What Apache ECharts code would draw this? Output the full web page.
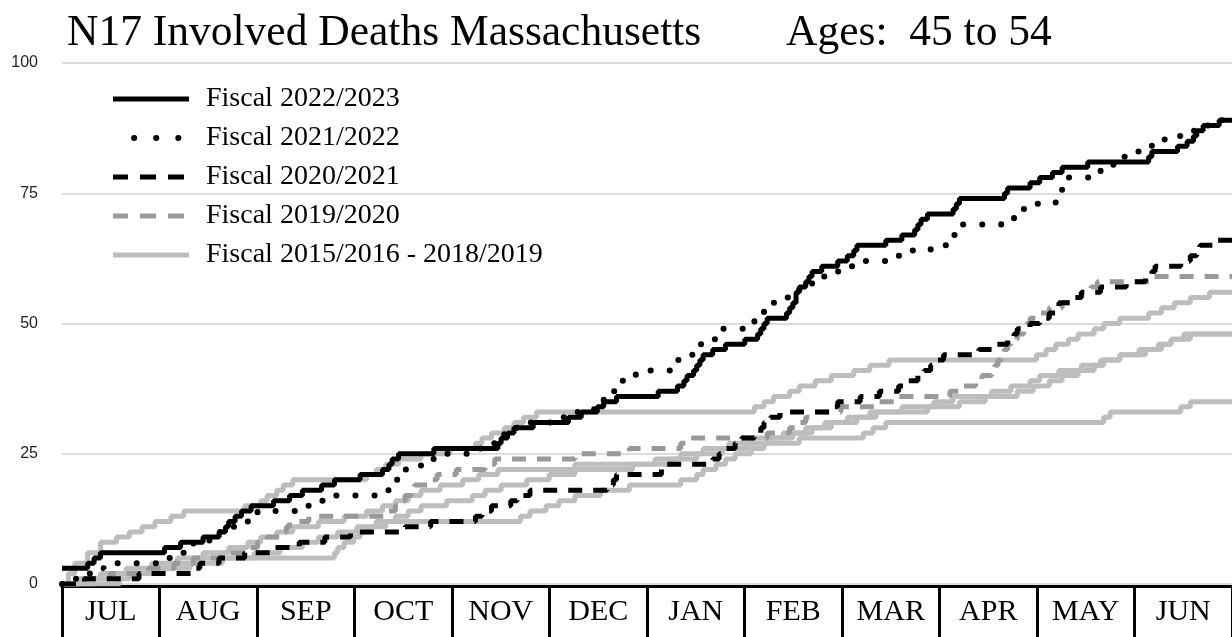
<!DOCTYPE html>
<html>
<head>
<meta charset="utf-8">
<script src="https://cdn.jsdelivr.net/npm/echarts@6/dist/echarts.min.js"></script>
<style>
  html, body { margin: 0; padding: 0; background: #fff; }
  #chart { width: 1232px; height: 637px; }
</style>
</head>
<body>
<div id="chart"></div>
<script>
// Month boxes along the bottom (fiscal year, July to June)
const months = ['JUL', 'AUG', 'SEP', 'OCT', 'NOV', 'DEC', 'JAN', 'FEB', 'MAR', 'APR', 'MAY', 'JUN'];
const yTicks = [0, 25, 50, 75, 100];
const daysInYear = 365;

// Running totals: [day of fiscal year, cumulative deaths from that day on]
const fy2223 = [[0,3],[8,4],[10,5],[12,6],[32,7],[37,8],[44,9],[49,10],[51,11],[52,12],[54,13],[56,14],[59,15],[66,16],[71,17],[75,18],[81,19],[85,20],[93,21],[100,22],[102,23],[103,24],[105,25],[116,26],[136,27],[137,28],[139,29],[141,30],[147,31],[158,32],[162,33],[167,34],[169,35],[173,36],[186,37],[192,38],[194,39],[195,40],[197,41],[198,42],[199,43],[200,44],[203,45],[207,46],[213,47],[217,48],[218,49],[219,50],[220,51],[226,52],[227,53],[228,54],[229,56],[230,57],[232,58],[233,59],[234,60],[237,61],[242,62],[245,63],[247,64],[248,65],[257,66],[262,67],[266,68],[267,69],[268,70],[270,71],[278,72],[279,73],[280,74],[294,75],[295,76],[302,77],[305,78],[309,79],[312,80],[320,81],[339,82],[340,83],[348,84],[351,85],[353,86],[354,87],[356,88],[361,89]];

const fy2122 = [[0,0],[4,1],[8,2],[9,3],[13,4],[32,5],[34,6],[38,7],[41,8],[46,9],[49,10],[53,11],[56,12],[59,13],[61,14],[74,15],[78,16],[84,17],[101,18],[102,19],[103,20],[105,21],[106,22],[112,23],[115,24],[117,25],[130,26],[132,27],[136,28],[138,29],[140,30],[142,31],[155,32],[160,33],[166,34],[168,35],[169,36],[171,37],[173,38],[174,39],[177,40],[179,41],[190,42],[192,43],[195,44],[197,45],[199,46],[201,47],[204,48],[205,49],[215,50],[216,51],[217,52],[219,53],[222,54],[224,55],[227,56],[230,57],[234,58],[237,59],[241,60],[245,61],[247,62],[258,63],[265,64],[271,65],[276,66],[277,67],[280,68],[281,69],[293,70],[297,71],[299,72],[304,73],[310,74],[311,75],[312,76],[313,77],[314,78],[321,79],[324,80],[328,81],[329,82],[335,83],[338,84],[340,85],[344,86],[350,87],[355,88],[360,89]];

const fy2021 = [[0,0],[7,1],[24,2],[41,3],[43,4],[49,5],[57,6],[65,7],[74,8],[82,9],[90,10],[107,11],[115,12],[129,13],[131,14],[134,15],[140,16],[142,17],[146,18],[170,19],[172,20],[173,21],[187,22],[188,23],[203,24],[205,25],[206,26],[210,27],[212,28],[216,29],[218,30],[219,31],[221,32],[224,33],[240,34],[242,35],[249,36],[255,37],[261,38],[263,39],[267,40],[269,41],[271,42],[272,43],[275,44],[286,45],[290,46],[295,47],[297,48],[298,49],[302,50],[305,51],[308,52],[310,53],[311,54],[316,55],[318,56],[324,57],[332,58],[338,59],[340,60],[341,61],[349,62],[352,63],[354,64],[355,65],[360,66]];

const fy1920 = [[0,0],[6,1],[15,2],[27,3],[35,4],[41,5],[51,6],[57,7],[61,8],[64,9],[68,10],[70,11],[71,12],[77,13],[102,14],[104,15],[105,16],[107,17],[109,18],[110,19],[114,20],[117,21],[123,22],[132,23],[135,24],[160,25],[177,26],[193,27],[195,28],[220,29],[227,30],[229,31],[232,32],[234,33],[243,34],[255,35],[261,36],[277,37],[280,38],[285,39],[287,40],[290,41],[291,42],[292,43],[293,44],[294,45],[295,46],[296,47],[298,48],[300,49],[301,50],[302,51],[305,52],[308,53],[312,54],[315,55],[318,56],[321,57],[323,58],[340,59]];

const fy1516 = [[0,0],[2,2],[4,4],[8,6],[12,8],[17,9],[21,10],[25,11],[29,12],[34,13],[38,14],[57,15],[62,16],[64,17],[67,18],[69,19],[72,20],[95,21],[98,22],[101,23],[105,24],[112,25],[121,26],[129,27],[131,28],[134,29],[138,30],[141,31],[144,32],[148,33],[216,34],[219,35],[222,36],[227,37],[230,38],[235,39],[240,40],[247,41],[252,42],[258,43],[304,44],[307,45],[310,46],[314,47],[317,48],[322,49],[325,50],[330,51],[339,52],[343,53],[347,54],[352,55],[358,56]];

const fy1617 = [[0,0],[5,1],[12,2],[20,3],[28,4],[36,5],[44,6],[52,7],[58,8],[62,9],[67,10],[72,11],[80,12],[88,13],[95,14],[100,15],[104,16],[108,17],[112,18],[118,19],[125,20],[130,21],[136,22],[160,23],[185,24],[193,25],[200,26],[208,27],[215,28],[225,29],[232,30],[238,31],[245,32],[252,33],[262,34],[272,35],[278,36],[290,37],[296,38],[302,39],[305,40],[311,41],[318,42],[324,43],[330,44],[338,45],[343,46],[346,47],[350,48]];

const fy1718 = [[0,0],[10,1],[18,2],[30,3],[40,4],[50,5],[60,6],[68,7],[75,8],[80,9],[86,10],[92,11],[98,12],[104,13],[108,14],[112,15],[120,16],[128,17],[132,18],[137,19],[145,20],[152,21],[160,22],[178,23],[190,24],[198,25],[206,26],[214,27],[220,28],[228,29],[234,30],[240,31],[248,32],[254,33],[270,34],[280,35],[288,36],[298,37],[303,38],[308,39],[312,40],[317,41],[322,42],[325,43],[330,44],[336,45],[342,46],[346,47],[352,48]];

const fy1819 = [[0,0],[18,1],[21,2],[27,3],[35,4],[42,5],[85,6],[86,7],[88,8],[91,9],[93,10],[96,11],[101,12],[143,13],[146,14],[151,15],[155,16],[160,17],[168,18],[177,19],[193,20],[198,21],[200,22],[204,23],[207,24],[210,25],[215,26],[219,27],[230,28],[250,29],[253,30],[257,31],[325,32],[327,33],[349,34],[352,35]];

const names = {
  fy2223: 'Fiscal 2022/2023',
  fy2122: 'Fiscal 2021/2022',
  fy2021: 'Fiscal 2020/2021',
  fy1920: 'Fiscal 2019/2020',
  prior: 'Fiscal 2015/2016 - 2018/2019'
};

const serif = '"Liberation Serif", "Times New Roman", serif';

// line looks shared by the plot and the legend keys
const styles = {
  fy2223: { color: '#000', width: 5, type: 'solid' },
  fy2122: { color: '#000', width: 6, type: [0.1, 19], cap: 'round' },
  fy2021: { color: '#000', width: 5, type: [14, 11] },
  fy1920: { color: '#999999', width: 5, type: [14, 11] },
  prior: { color: '#bdbdbd', width: 5, type: 'solid' }
};

// carry the last running total through to the end of the year
function toYearEnd(points) {
  const last = points[points.length - 1];
  return last[0] < daysInYear ? points.concat([[daysInYear, last[1]]]) : points;
}

function stepLine(key, points, z) {
  return {
    type: 'line',
    name: names[key],
    data: toYearEnd(points),
    step: 'end',
    symbol: 'none',
    showSymbol: false,
    lineStyle: styles[key],
    itemStyle: { color: styles[key].color },
    z: z,
    silent: true,
    xAxisIndex: 0,
    yAxisIndex: 0
  };
}

function legendKey(key, extra) {
  return {
    name: names[key],
    itemStyle: { opacity: 0 },
    lineStyle: Object.assign({}, styles[key], extra || {})
  };
}

const chart = echarts.init(document.getElementById('chart'), null, { renderer: 'canvas' });

chart.setOption({
  animation: false,
  backgroundColor: '#fff',
  title: [
    {
      text: 'N17 Involved Deaths Massachusetts',
      left: 67, top: 12, padding: 0,
      textStyle: { fontFamily: serif, fontSize: 43.5, fontWeight: 'normal', color: '#000' }
    },
    {
      text: 'Ages:  45 to 54',
      left: 786, top: 12, padding: 0,
      textStyle: { fontFamily: serif, fontSize: 43.5, fontWeight: 'normal', color: '#000' }
    }
  ],
  legend: {
    data: [
      legendKey('fy2223'),
      legendKey('fy2122', { type: [0.1, 22], dashOffset: 1 }),
      legendKey('fy2021', { type: [16, 12] }),
      legendKey('fy1920', { type: [16, 12] }),
      legendKey('prior')
    ],
    orient: 'vertical',
    left: 110,
    top: 85,
    padding: 0,
    itemWidth: 76,
    itemHeight: 12,
    itemGap: 11,
    selectedMode: false,
    textStyle: { fontFamily: serif, fontSize: 28, color: '#000', lineHeight: 28, padding: [0, 0, 0, 12] }
  },
  grid: [
    { left: 62, right: 0, top: 63, bottom: 53 },
    { left: 62, right: 0, top: 586, bottom: 0 }
  ],
  xAxis: [
    { type: 'value', gridIndex: 0, min: 0, max: daysInYear, show: false },
    {
      // month strip: top rule, box dividers and names inside the boxes
      type: 'category', gridIndex: 1, data: months, position: 'top', boundaryGap: true,
      axisLine: { show: true, onZero: false, lineStyle: { color: '#000', width: 3 } },
      axisTick: { show: false },
      splitLine: { show: true, lineStyle: { color: '#000', width: 3 } },
      axisLabel: { inside: true, margin: 11, fontFamily: serif, fontSize: 30, color: '#000', interval: 0 }
    }
  ],
  yAxis: [
    {
      type: 'value', gridIndex: 0, min: yTicks[0], max: yTicks[yTicks.length - 1], interval: 25,
      axisLine: { show: false }, axisTick: { show: false },
      axisLabel: { margin: 24, fontSize: 16, color: '#222', fontFamily: '"Liberation Sans", Arial, sans-serif' },
      splitLine: { lineStyle: { color: '#dcdcdc', width: 2 } }
    },
    { type: 'value', gridIndex: 1, min: 0, max: 1, show: false }
  ],
  series: [
    stepLine('prior', fy1516, 2),
    stepLine('prior', fy1617, 2),
    stepLine('prior', fy1718, 2),
    stepLine('prior', fy1819, 2),
    stepLine('fy1920', fy1920, 3),
    stepLine('fy2021', fy2021, 4),
    stepLine('fy2122', fy2122, 5),
    stepLine('fy2223', fy2223, 6)
  ]
});
</script>
</body>
</html>
